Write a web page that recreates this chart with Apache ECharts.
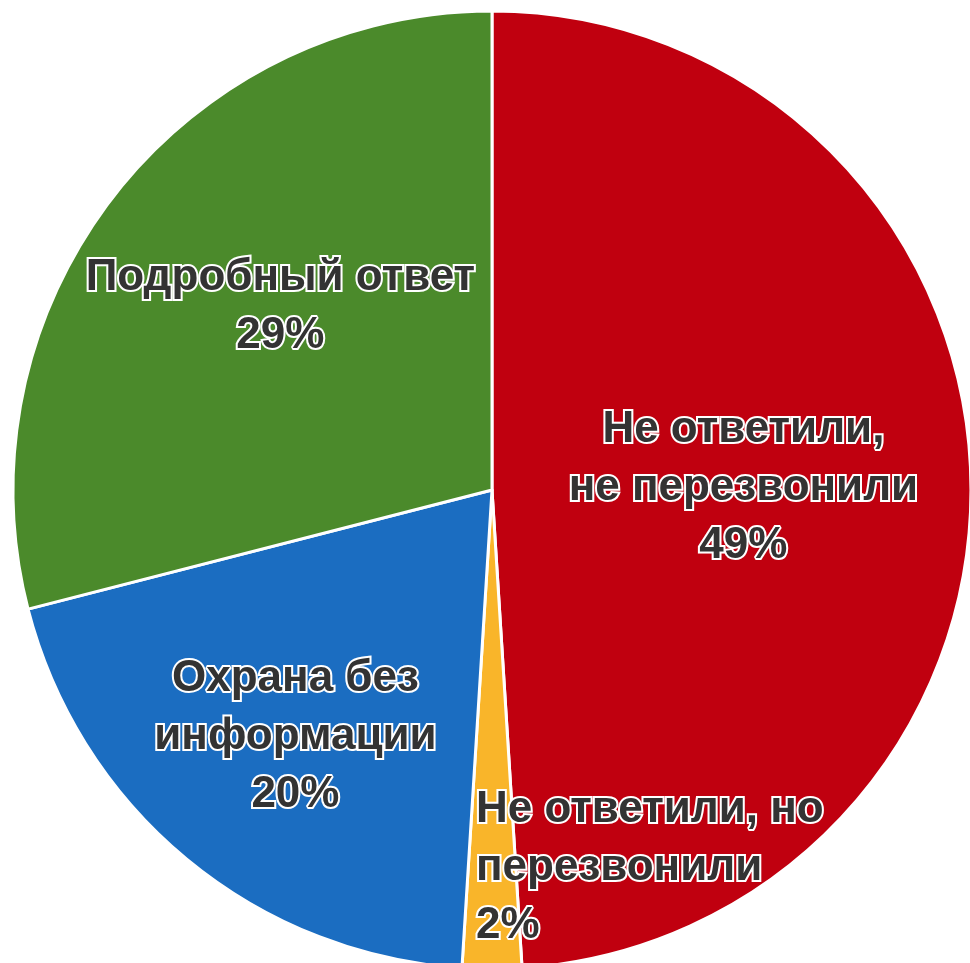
<!DOCTYPE html>
<html>
<head>
<meta charset="utf-8">
<script src="https://cdn.jsdelivr.net/npm/echarts@6/dist/echarts.min.js"></script>
<style>html,body{margin:0;padding:0;background:#fff}#c{width:970px;height:963px}</style>
</head>
<body>
<div id="c"></div>
<script>
const categories = ['Не ответили,\nне перезвонили', 'Не ответили, но\nперезвонили', 'Охрана без\nинформации', 'Подробный ответ'];
const values = [49, 2, 20, 29];
const colors = ['#C0000F', '#F9B52A', '#1B6DC1', '#4B8A2B'];
const labelOffsets = [[9, 5], [0, 0], [-42, 60], [-20, -35]];

const CX = 492, CY = 490, R = 479;
const chart = echarts.init(document.getElementById('c'), null, {renderer: 'canvas'});
chart.setOption({
  animation: false,
  series: [{
    type: 'pie',
    center: [CX, CY],
    radius: [0, R],
    startAngle: 90,
    clockwise: true,
    avoidLabelOverlap: false,
    itemStyle: {borderColor: '#ffffff', borderWidth: 3},
    label: {
      show: true,
      position: 'inside',
      formatter: p => p.name + '\n' + p.value + '%',
      fontFamily: 'Liberation Sans',
      fontWeight: 'bold',
      fontSize: 44,
      lineHeight: 58,
      color: '#333333',
      textBorderColor: '#ffffff',
      textBorderWidth: 4
    },
    labelLine: {show: false},
    labelLayout: function (p) {
      if (p.dataIndex === 1) {
        return {x: CX - 16, y: CY + 378, align: 'left', verticalAlign: 'middle'};
      }
      return {};
    },
    data: categories.map((n, i) => ({
      name: n,
      value: values[i],
      itemStyle: {color: colors[i]},
      label: i === 1 ? {position: 'outside', align: 'left'} : {offset: labelOffsets[i]}
    }))
  }]
});
</script>
</body>
</html>
